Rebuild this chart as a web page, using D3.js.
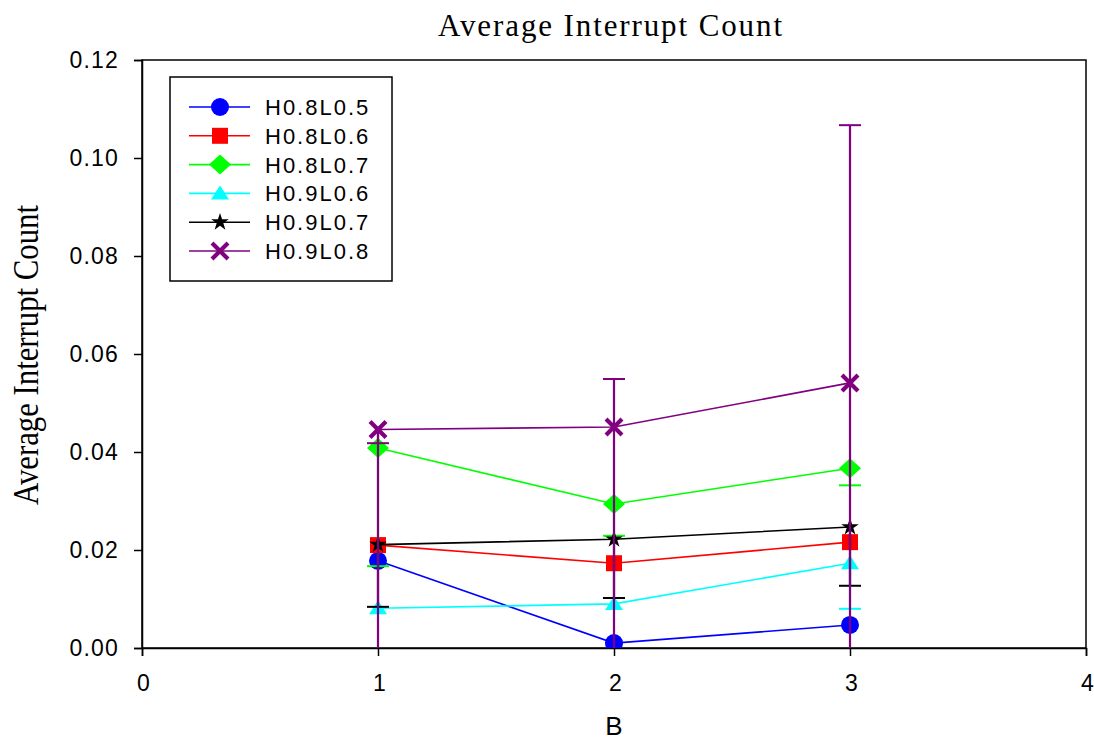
<!DOCTYPE html>
<html>
<head>
<meta charset="utf-8">
<script src="https://cdn.jsdelivr.net/npm/d3@7"></script>
<style>
  html, body { margin: 0; padding: 0; background: #ffffff; }
  svg { display: block; }
</style>
</head>
<body>
<svg id="chart" width="1094" height="740"></svg>
<script>
// ---- data ----
const categories = [1, 2, 3];
const xTicks = [0, 1, 2, 3, 4];
const yTicks = [0, 0.02, 0.04, 0.06, 0.08, 0.10, 0.12];
const seriesNames = ["H0.8L0.5", "H0.8L0.6", "H0.8L0.7", "H0.9L0.6", "H0.9L0.7", "H0.9L0.8"];

const h08l05 = [0.0178, 0.0010, 0.0047];
const h08l06 = [0.0210, 0.0173, 0.0216];
const h08l07 = [0.0408, 0.0294, 0.0367];
const h09l06 = [0.0081, 0.0090, 0.0173];
const h09l07 = [0.0211, 0.0222, 0.0247];
const h09l08 = [0.0446, 0.0451, 0.0541];

// error-bar end points for each category (a whisker runs from the mean to each end)
const h08l05Err = [[], [], []];
const h08l06Err = [[], [], []];
const h08l07Err = [[0.0167], [0.0229], [0.0332]];
const h09l06Err = [[], [], [0.0080]];
const h09l07Err = [[0.0084], [0.0102], [0.0127]];
const h09l08Err = [[-0.0040, 0.0418], [-0.0060, 0.0549], [-0.0020, 0.1067]];

const seriesValues = [h08l05, h08l06, h08l07, h09l06, h09l07, h09l08];
const seriesErrors = [h08l05Err, h08l06Err, h08l07Err, h09l06Err, h09l07Err, h09l08Err];
const seriesColors = ["#0000ff", "#ff0000", "#00ff00", "#00ffff", "#000000", "#800080"];
const seriesSymbols = ["circle", "square", "diamond", "triangle", "star", "cross"];

// ---- layout ----
const svg = d3.select("#chart");
const plot = { left: 142, right: 1086, top: 60, bottom: 648 };

const x = d3.scaleLinear().domain([0, 4]).range([plot.left, plot.right]);
const y = d3.scaleLinear().domain([0, 0.12]).range([plot.bottom, plot.top]);

const sansFont = "'Liberation Sans', Arial, sans-serif";
const serifFont = "'Liberation Serif', 'Times New Roman', serif";

svg.append("defs").append("clipPath").attr("id", "plotClip")
  .append("rect")
  .attr("x", plot.left).attr("y", plot.top)
  .attr("width", plot.right - plot.left).attr("height", plot.bottom - plot.top);

// ---- symbols ----
function symbolPath(kind) {
  switch (kind) {
    case "circle": return d3.symbol(d3.symbolCircle, Math.PI * 9 * 9)();
    case "square": return "M-8,-8H8V8H-8Z";
    case "diamond": return "M0,-10L11,0L0,10L-11,0Z";
    case "triangle": return "M0,-8L9,6L-9,6Z";
    case "star": return d3.symbol(d3.symbolStar, 95)();
    case "cross": return "M-6.5,-6.5L6.5,6.5M6.5,-6.5L-6.5,6.5";
  }
}

function drawSymbol(g, kind, color, cx, cy) {
  const p = g.append("path")
    .attr("d", symbolPath(kind))
    .attr("transform", `translate(${cx},${cy})`);
  if (kind === "cross") {
    p.attr("fill", "none").attr("stroke", color).attr("stroke-width", 4.2).attr("stroke-linecap", "square");
  } else {
    p.attr("fill", color).attr("stroke", "none");
  }
}

// ---- frame ----
svg.append("rect")
  .attr("x", plot.left).attr("y", plot.top)
  .attr("width", plot.right - plot.left).attr("height", plot.bottom - plot.top)
  .attr("fill", "none").attr("stroke", "#000").attr("stroke-width", 1.5);

// ---- axes ----
const yAxis = svg.append("g")
  .attr("transform", `translate(${plot.left},0)`)
  .call(d3.axisLeft(y).tickValues(yTicks).tickFormat(d3.format(".2f")).tickSize(8).tickPadding(15));
const xAxis = svg.append("g")
  .attr("transform", `translate(0,${plot.bottom})`)
  .call(d3.axisBottom(x).tickValues(xTicks).tickFormat(d3.format("d")).tickSize(8).tickPadding(19));

[yAxis, xAxis].forEach(ax => {
  ax.attr("font-size", null).attr("font-family", null);
  ax.select(".domain").attr("stroke", "#000").attr("stroke-width", 1.5);
  ax.selectAll(".tick line").attr("stroke", "#000").attr("stroke-width", 1.5);
  ax.selectAll(".tick text")
    .attr("fill", "#000")
    .attr("font-family", sansFont)
    .attr("font-size", 23);
});
yAxis.selectAll(".tick text").attr("letter-spacing", 1.2);
xAxis.selectAll(".tick text").attr("dx", 1);

// ---- series ----
const data = svg.append("g").attr("clip-path", "url(#plotClip)");
const capHalf = 11;

seriesValues.forEach((vals, si) => {
  const color = seriesColors[si];
  const g = data.append("g");

  // whiskers with caps
  vals.forEach((v, ci) => {
    const cx = x(categories[ci]);
    seriesErrors[si][ci].forEach(end => {
      g.append("line")
        .attr("x1", cx).attr("x2", cx)
        .attr("y1", y(v)).attr("y2", y(end))
        .attr("stroke", color).attr("stroke-width", 2.2);
      g.append("line")
        .attr("x1", cx - capHalf).attr("x2", cx + capHalf)
        .attr("y1", y(end)).attr("y2", y(end))
        .attr("stroke", color).attr("stroke-width", 2);
    });
  });

  // connecting line
  g.append("path")
    .datum(vals.map((v, ci) => [categories[ci], v]))
    .attr("fill", "none")
    .attr("stroke", color)
    .attr("stroke-width", 1.6)
    .attr("d", d3.line().x(d => x(d[0])).y(d => y(d[1])));

  // markers
  vals.forEach((v, ci) => drawSymbol(g, seriesSymbols[si], color, x(categories[ci]), y(v)));
});

// ---- legend ----
const legend = svg.append("g");
legend.append("rect")
  .attr("x", 170).attr("y", 77).attr("width", 222).attr("height", 204)
  .attr("fill", "#fff").attr("stroke", "#000").attr("stroke-width", 1.5);

seriesNames.forEach((name, si) => {
  const ly = 107 + si * 28.8;
  legend.append("line")
    .attr("x1", 189).attr("x2", 250).attr("y1", ly).attr("y2", ly)
    .attr("stroke", seriesColors[si]).attr("stroke-width", 1.6);
  drawSymbol(legend, seriesSymbols[si], seriesColors[si], 220, ly);
  legend.append("text")
    .attr("x", 265).attr("y", ly).attr("dy", "0.36em")
    .attr("fill", "#000")
    .attr("font-family", sansFont)
    .attr("font-size", 22)
    .attr("letter-spacing", 2)
    .text(name);
});

// ---- titles ----
svg.append("text")
  .attr("x", 610).attr("y", 36)
  .attr("text-anchor", "middle")
  .attr("textLength", 344).attr("lengthAdjust", "spacing")
  .attr("fill", "#000")
  .attr("font-family", serifFont)
  .attr("font-size", 31)
  .text("Average Interrupt Count");

svg.append("text")
  .attr("transform", "translate(38,355) rotate(-90)")
  .attr("text-anchor", "middle")
  .attr("textLength", 300).attr("lengthAdjust", "spacingAndGlyphs")
  .attr("fill", "#000")
  .attr("font-family", serifFont)
  .attr("font-size", 36)
  .text("Average Interrupt Count");

svg.append("text")
  .attr("x", 614).attr("y", 735)
  .attr("text-anchor", "middle")
  .attr("fill", "#000")
  .attr("font-family", sansFont)
  .attr("font-size", 26)
  .text("B");
</script>
</body>
</html>
